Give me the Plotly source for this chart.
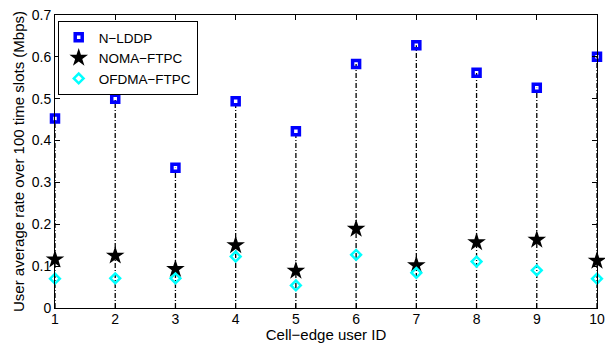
import plotly.graph_objects as go

user_ids = [1, 2, 3, 4, 5, 6, 7, 8, 9, 10]
n_lddp = [0.453, 0.500, 0.335, 0.494, 0.422, 0.583, 0.628, 0.562, 0.526, 0.600]
noma_ftpc = [0.116, 0.125, 0.093, 0.150, 0.089, 0.189, 0.102, 0.157, 0.163, 0.113]
ofdma_ftpc = [0.070, 0.071, 0.071, 0.123, 0.054, 0.127, 0.084, 0.111, 0.090, 0.070]
y_ticks = [0, 0.1, 0.2, 0.3, 0.4, 0.5, 0.6, 0.7]
y_tick_labels = ["0", "0.1", "0.2", "0.3", "0.4", "0.5", "0.6", "0.7"]

font = "Liberation Sans, Arial, Helvetica, sans-serif"

# stems from 0 to N-LDDP value
sx, sy = [], []
for x, v in zip(user_ids, n_lddp):
    sx += [x, x, None]
    sy += [0, v, None]

fig = go.Figure()
fig.add_trace(go.Scatter(x=sx, y=sy, mode="lines", showlegend=False,
                         line=dict(color="black", width=1.3, dash="5px,2px,1px,2px"),
                         hoverinfo="skip", cliponaxis=False))
fig.add_trace(go.Scatter(x=user_ids, y=n_lddp, mode="markers", name="N−LDDP",
                         marker=dict(symbol="square-open", size=7, color="#0000ff",
                                     line=dict(width=3.5, color="#0000ff")),
                         cliponaxis=False))
fig.add_trace(go.Scatter(x=user_ids, y=noma_ftpc, mode="markers", name="NOMA−FTPC",
                         marker=dict(symbol="star", size=14, color="black",
                                     line=dict(width=0)),
                         cliponaxis=False))
fig.add_trace(go.Scatter(x=user_ids, y=ofdma_ftpc, mode="markers", name="OFDMA−FTPC",
                         marker=dict(symbol="diamond-open", size=7.5, color="#00ffff",
                                     line=dict(width=2.5, color="#00ffff")),
                         cliponaxis=False))

fig.update_layout(
    width=605, height=343,
    margin=dict(l=55, r=8, t=15, b=35, autoexpand=False),
    plot_bgcolor="white", paper_bgcolor="white",
    font=dict(family=font, size=14, color="black"),
    showlegend=True,
    legend=dict(x=0.005, y=0.9795, xanchor="left", yanchor="top",
                bgcolor="white", bordercolor="black", borderwidth=1,
                font=dict(size=13.5), tracegroupgap=0, itemsizing="trace"),
    xaxis=dict(range=[1, 10], tickmode="array", tickvals=user_ids,
               ticktext=[str(u) for u in user_ids], automargin=False,
               showgrid=False, zeroline=False, showline=True, linecolor="black",
               linewidth=1, mirror="ticks", ticks="inside", ticklen=5,
               tickcolor="black", tickfont=dict(size=14), ticklabelstandoff=-2,
               title=dict(text="Cell−edge user ID", font=dict(size=15), standoff=4)),
    yaxis=dict(range=[0, 0.7], tickmode="array", tickvals=y_ticks,
               ticktext=y_tick_labels, automargin=False,
               showgrid=False, zeroline=False, showline=True, linecolor="black",
               linewidth=1, mirror="ticks", ticks="inside", ticklen=5,
               tickcolor="black", tickfont=dict(size=14),
               title=dict(text="User average rate over 100 time slots (Mbps)",
                          font=dict(size=15), standoff=3)),
)

fig.write_html("out.html", config={"displayModeBar": False},
               post_script="document.body.style.margin='0';")
